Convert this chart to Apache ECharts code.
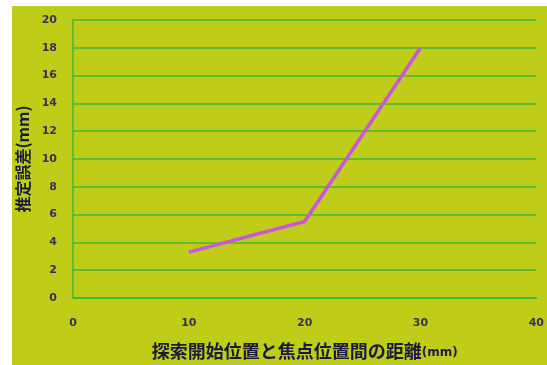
<!DOCTYPE html>
<html><head><meta charset="utf-8">
<script src="https://cdn.jsdelivr.net/npm/echarts@6/dist/echarts.min.js"></script>
<style>html,body{margin:0;padding:0;background:#fff}#c{width:547px;height:365px}</style>
</head><body><div id="c"></div>
<script>
const xValues = [10, 20, 30];
const yValues = [3.3, 5.5, 18];
const xName = '探索開始位置と焦点位置間の距離';
const yName = '推定誤差(mm)';

const chart = echarts.init(document.getElementById('c'));
const green = '#3cb83c';
chart.setOption({
  animation: false,
  backgroundColor: '#ffffff',
  graphic: [{type: 'rect', shape: {x: 12, y: 6, width: 535, height: 359}, style: {fill: '#bfcd19'}, z: -10}],
  grid: {left: 73, right: 10, top: 20, bottom: 64},
  xAxis: {
    type: 'value', min: 0, max: 40, interval: 10,
    axisLine: {show: true, lineStyle: {color: green, width: 1.5}},
    axisTick: {show: false},
    splitLine: {show: false},
    axisLabel: {margin: 20, color: '#333355', fontSize: 11, fontWeight: 'bold', fontFamily: 'DejaVu Sans'},
    name: xName + '{s|(mm)}', nameLocation: 'middle', nameGap: 44,
    nameTextStyle: {color: '#1a1a40', fontSize: 18, fontWeight: 'bold', fontFamily: 'Noto Sans CJK JP',
      rich: {s: {fontSize: 12, color: '#1a1a40', fontWeight: 'bold', fontFamily: 'DejaVu Sans', padding: [4,0,0,0]}}}
  },
  yAxis: {
    type: 'value', min: 0, max: 20, interval: 2,
    axisLine: {show: true, lineStyle: {color: green, width: 1.5}},
    axisTick: {show: false},
    splitLine: {show: true, lineStyle: {color: green, width: 1.5}},
    axisLabel: {margin: 16, color: '#333355', fontSize: 11, fontWeight: 'bold', fontFamily: 'DejaVu Sans'},
    name: yName, nameLocation: 'middle', nameGap: 41,
    nameTextStyle: {color: '#1a1a40', fontSize: 16, fontWeight: 'bold', fontFamily: 'Noto Sans CJK JP'}
  },
  series: [{
    type: 'line',
    data: xValues.map((x, i) => [x, yValues[i]]),
    symbol: 'none',
    lineStyle: {color: '#cc55dd', width: 3.5}
  }]
});
</script></body></html>
